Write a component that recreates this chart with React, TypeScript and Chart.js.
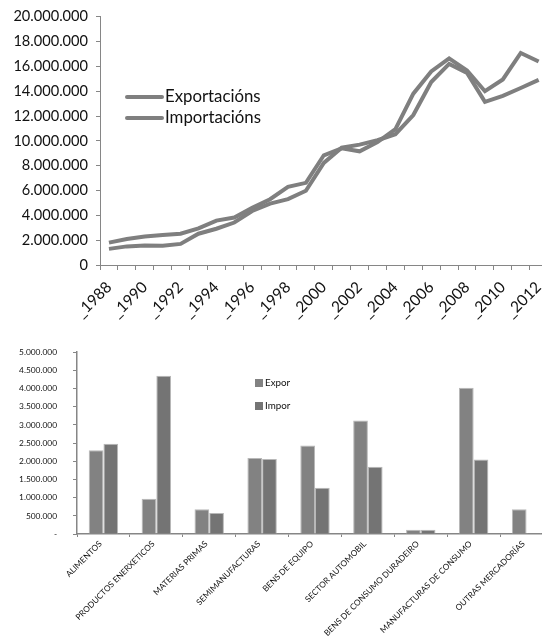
import React, { useEffect, useRef } from 'react';
import { Chart, registerables } from 'chart.js';
Chart.register(...registerables);

const years = ['_1988', '_1989', '_1990', '_1991', '_1992', '_1993', '_1994', '_1995', '_1996', '_1997', '_1998', '_1999', '_2000', '_2001', '_2002', '_2003', '_2004', '_2005', '_2006', '_2007', '_2008', '_2009', '_2010', '_2011', '_2012'];
const exportacions = [1800000, 2100000, 2300000, 2420000, 2520000, 2950000, 3580000, 3820000, 4600000, 5300000, 6300000, 6620000, 8840000, 9400000, 9160000, 9900000, 10940000, 13800000, 15590000, 16650000, 15670000, 14000000, 14950000, 17080000, 16390000];
const importacions = [1300000, 1500000, 1580000, 1560000, 1700000, 2520000, 2920000, 3420000, 4350000, 4950000, 5310000, 5980000, 8230000, 9450000, 9700000, 10050000, 10540000, 12080000, 14740000, 16200000, 15480000, 13150000, 13630000, 14260000, 14920000];

const sectores = ['ALIMENTOS', 'PRODUCTOS ENERXETICOS', 'MATERIAS PRIMAS', 'SEMIMANUFACTURAS', 'BENS DE EQUIPO', 'SECTOR AUTOMOBIL', 'BENS DE CONSUMO DURADEIRO', 'MANUFACTURAS DE CONSUMO', 'OUTRAS MERCADORÍAS'];
const expor = [2300000, 970000, 680000, 2090000, 2430000, 3120000, 120000, 4020000, 680000];
const impor = [2480000, 4350000, 580000, 2060000, 1270000, 1850000, 120000, 2050000, 30000];

const FONT = 'Lato';
const AXIS = '#868686';
const LINE = '#7f7f7f';

const fmt = (v: number) => Math.round(v).toString().replace(/\B(?=(\d{3})+(?!\d))/g, '.');

function LineChart() {
  const ref = useRef<HTMLCanvasElement>(null);
  useEffect(() => {
    const legendPlugin = {
      id: 'lineLegend',
      afterDraw(chart: any) {
        const ctx = chart.ctx;
        ctx.save();
        const items = [['Exportacións', 97], ['Importacións', 118]] as [string, number][];
        for (const [t, y] of items) {
          ctx.strokeStyle = LINE;
          ctx.lineWidth = 4;
          ctx.lineCap = 'round';
          ctx.beginPath();
          ctx.moveTo(127, y);
          ctx.lineTo(162, y);
          ctx.stroke();
          ctx.fillStyle = '#111';
          ctx.font = `16.8px ${FONT}`;
          ctx.textBaseline = 'middle';
          ctx.textAlign = 'left';
          ctx.fillText(t, 165, y);
        }
        ctx.restore();
      },
    };
    const chart = new Chart(ref.current!, {
      type: 'line',
      data: {
        labels: years,
        datasets: [
          { label: 'Exportacións', data: exportacions, borderColor: LINE, borderWidth: 4, pointRadius: 0, tension: 0 },
          { label: 'Importacións', data: importacions, borderColor: LINE, borderWidth: 4, pointRadius: 0, tension: 0 },
        ],
      },
      options: {
        responsive: false,
        animation: false,
        layout: { padding: { top: 14, left: 0, right: 10, bottom: 0 } },
        plugins: { legend: { display: false }, tooltip: { enabled: false } },
        scales: {
          x: {
            type: 'category',
            offset: true,
            grid: { display: true, drawOnChartArea: false, drawTicks: true, tickLength: 5, offset: true, color: AXIS },
            border: { color: AXIS },
            ticks: {
              autoSkip: false,
              maxRotation: 45,
              minRotation: 45,
              padding: 8,
              color: '#111',
              font: { family: FONT, size: 15.5 },
              callback: (_v: any, i: number) => (i % 2 === 0 ? years[i] : ''),
            },
            afterFit: (s: any) => { s.height = 63; },
          },
          y: {
            min: 0,
            max: 20000000,
            grid: { display: true, drawOnChartArea: false, drawTicks: true, tickLength: 4, color: AXIS },
            border: { color: AXIS },
            ticks: {
              stepSize: 2000000,
              padding: 8,
              color: '#111',
              font: { family: FONT, size: 14.6 },
              callback: (v: any) => fmt(Number(v)),
            },
            afterFit: (s: any) => { s.width = 100; },
          },
        },
      },
      plugins: [legendPlugin],
    });
    return () => chart.destroy();
  }, []);
  return <canvas ref={ref} width={560} height={328} style={{ position: 'absolute', left: 0, top: 0, width: 560, height: 328 }} />;
}

function BarChart() {
  const ref = useRef<HTMLCanvasElement>(null);
  useEffect(() => {
    const legendPlugin = {
      id: 'barLegend',
      afterDraw(chart: any) {
        const ctx = chart.ctx;
        ctx.save();
        const items = [['Expor', 53, '#828282'], ['Impor', 76, '#747474']] as [string, number, string][];
        for (const [t, y, c] of items) {
          ctx.fillStyle = c;
          ctx.fillRect(255, y - 4, 8, 8);
          ctx.fillStyle = '#111';
          ctx.font = `9.8px ${FONT}`;
          ctx.textBaseline = 'middle';
          ctx.textAlign = 'left';
          ctx.fillText(t, 265, y);
        }
        ctx.restore();
      },
    };
    const chart = new Chart(ref.current!, {
      type: 'bar',
      data: {
        labels: sectores,
        datasets: [
          { label: 'Expor', data: expor, backgroundColor: '#828282', borderColor: '#b8b8b8', borderWidth: 1, categoryPercentage: 0.556, barPercentage: 1 },
          { label: 'Impor', data: impor, backgroundColor: '#747474', borderColor: '#b8b8b8', borderWidth: 1, categoryPercentage: 0.556, barPercentage: 1 },
        ],
      },
      options: {
        responsive: false,
        animation: false,
        layout: { padding: { top: 22, left: 0, right: 17, bottom: 0 } },
        plugins: { legend: { display: false }, tooltip: { enabled: false } },
        scales: {
          x: {
            offset: true,
            grid: { display: true, drawOnChartArea: false, drawTicks: true, tickLength: 3, offset: true, color: AXIS },
            border: { color: AXIS, width: 1.5 },
            ticks: {
              autoSkip: false,
              maxRotation: 45,
              minRotation: 45,
              padding: 2,
              labelOffset: -3,
              color: '#111',
              font: { family: FONT, size: 8.3 },
            },
            afterFit: (s: any) => { s.height = 110; },
          },
          y: {
            min: 0,
            max: 5000000,
            grid: { display: true, drawOnChartArea: false, drawTicks: true, tickLength: 4, color: AXIS },
            border: { color: AXIS, width: 1.5 },
            ticks: {
              stepSize: 500000,
              padding: 16,
              color: '#111',
              font: { family: FONT, size: 8.4 },
              callback: (v: any) => (Number(v) === 0 ? '-' : fmt(Number(v))),
            },
            afterFit: (s: any) => { s.width = 77; },
          },
        },
      },
      plugins: [legendPlugin],
    });
    return () => chart.destroy();
  }, []);
  return <canvas ref={ref} width={570} height={314} style={{ position: 'absolute', left: 0, top: 330, width: 570, height: 314 }} />;
}

export default function App() {
  return (
    <div style={{ position: 'absolute', left: 0, top: 0, width: 542, height: 644, overflow: 'hidden', background: '#fff' }}>
      <LineChart />
      <BarChart />
    </div>
  );
}
